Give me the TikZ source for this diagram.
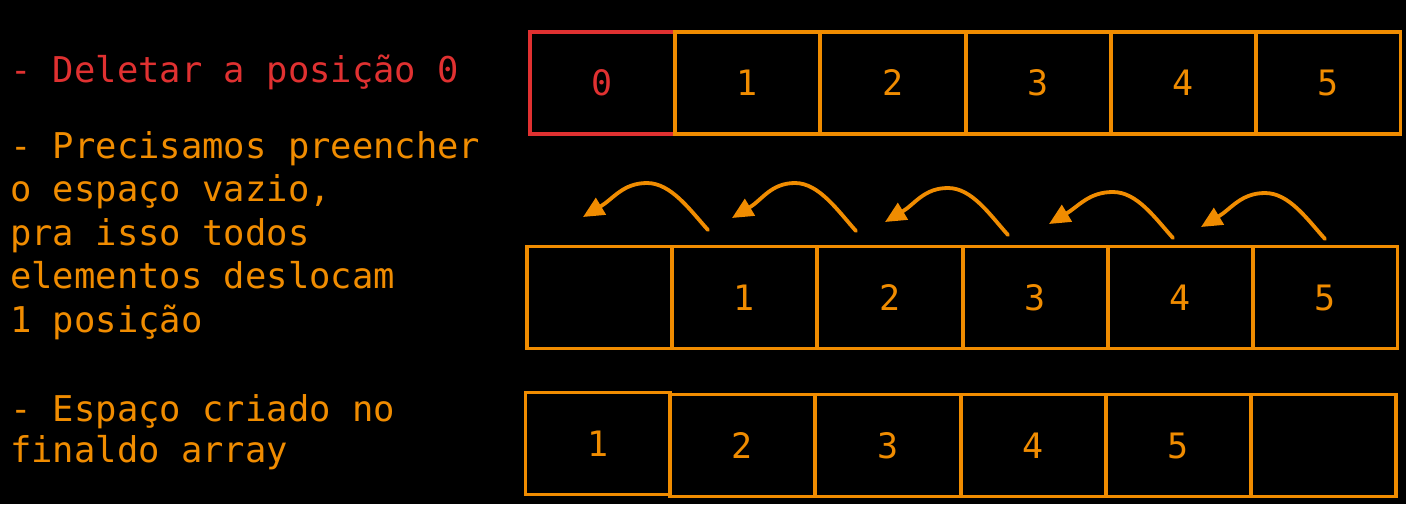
\documentclass[tikz,border=0pt]{standalone}
\usepackage{fontspec}
\setmonofont{DejaVu Sans Mono}
\usetikzlibrary{arrows.meta,calc}
\definecolor{orng}{HTML}{F08C00}
\definecolor{rd}{HTML}{E03131}
\begin{document}
\begin{tikzpicture}[x=1pt,y=-1pt,
  txt/.style={anchor=base west,inner sep=0pt,text=orng,font=\ttfamily\fontsize{35.5}{43.5}\selectfont},
  cell/.style={draw=orng,line width=3.5pt,minimum width=145pt,minimum height=102pt,inner sep=0pt,text=orng,font=\ttfamily\fontsize{35}{40}\selectfont},
  redcell/.style={cell,draw=rd,text=rd},
  movearrow/.style={draw=orng,line width=3.8pt,line cap=round,-{Triangle[length=21pt,width=19pt]}}]
\fill[black] (0,0) rectangle (1406,504);
\useasboundingbox (0,0) rectangle (1406,504);
% texts
\node[txt,text=rd] (t1) at (10,82) {- Deletar a posição 0};
\node[txt] (t2a) at (10,158) {- Precisamos preencher};
\node[txt] (t2b) at (10,201) {o espaço vazio,};
\node[txt] (t2c) at (10,245) {pra isso todos};
\node[txt] (t2d) at (10,288) {elementos deslocam};
\node[txt] (t2e) at (10,332) {1 posição};
\node[txt] (t3a) at (10,421) {- Espaço criado no};
\node[txt] (t3b) at (10,462) {finaldo array};
% row 1
\node[redcell] (a0) at (602.5,83) {0};
\node[cell] (a1) at (747.5,83) {1};
\node[cell] (a2) at (893,83) {2};
\node[cell] (a3) at (1038.5,83) {3};
\node[cell] (a4) at (1183.5,83) {4};
\node[cell] (a5) at (1328,83) {5};
% row 2
\node[cell] (b0) at (599.5,297.5) {};
\node[cell] (b1) at (744.5,297.5) {1};
\node[cell] (b2) at (890,297.5) {2};
\node[cell] (b3) at (1035.5,297.5) {3};
\node[cell] (b4) at (1180.5,297.5) {4};
\node[cell] (b5) at (1325,297.5) {5};
% row 3
\node[cell] (c0) at (598,443.5) {1};
\node[cell] (c1) at (742.5,445.5) {2};
\node[cell] (c2) at (888,445.5) {3};
\node[cell] (c3) at (1033.5,445.5) {4};
\node[cell] (c4) at (1178.5,445.5) {5};
\node[cell] (c5) at (1323.5,445.5) {};
% arrows
\coordinate (s1) at (708,230); \coordinate (p1) at (647,183); \coordinate (e1) at (583,217);
\coordinate (s2) at (856,231); \coordinate (p2) at (795,183); \coordinate (e2) at (732,218);
\coordinate (s3) at (1008,235); \coordinate (p3) at (948,188); \coordinate (e3) at (885,222);
\coordinate (s4) at (1173,238); \coordinate (p4) at (1113,192); \coordinate (e4) at (1049,224);
\coordinate (s5) at (1325,239); \coordinate (p5) at (1265,193); \coordinate (e5) at (1201,227);
\foreach \i in {1,...,5}{
  \draw[movearrow] (s\i) .. controls +(-18,-20) and +(24,0) .. (p\i)
                         .. controls +(-24,0) and +(30,-18) .. (e\i);
}
\end{tikzpicture}
\end{document}
